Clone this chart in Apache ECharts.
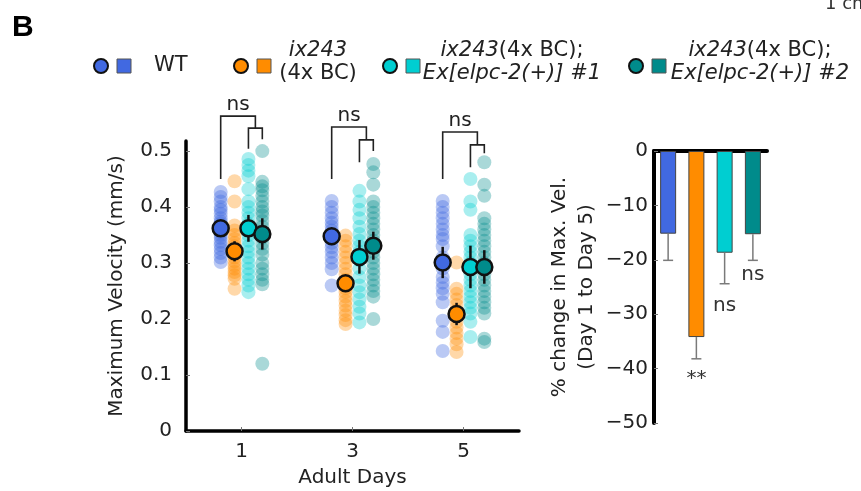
<!DOCTYPE html>
<html>
<head>
<meta charset="utf-8">
<script src="https://cdn.jsdelivr.net/npm/echarts@6/dist/echarts.min.js"></script>
<style>
  html, body { margin: 0; padding: 0; background: #fff; }
  #chart { width: 861px; height: 491px; }
</style>
</head>
<body>
<div id="chart"></div>
<script>
// x positions (adult days) and tick labels
const days = [1, 3, 5]
const velTicks = [0, 0.1, 0.2, 0.3, 0.4, 0.5]
const pctTicks = [0, -10, -20, -30, -40, -50]

// individual worms, max velocity (mm/s), one list per day (1, 3, 5)
const wtVel = [
  [0.427, 0.418, 0.41, 0.4, 0.395, 0.388, 0.38, 0.374, 0.37, 0.366, 0.36, 0.355, 0.35, 0.345, 0.338, 0.332, 0.325, 0.318, 0.31, 0.302],
  [0.411, 0.4, 0.39, 0.38, 0.372, 0.365, 0.358, 0.35, 0.343, 0.336, 0.328, 0.32, 0.31, 0.3, 0.289, 0.26],
  [0.411, 0.4, 0.39, 0.38, 0.37, 0.36, 0.35, 0.343, 0.33, 0.31, 0.29, 0.275, 0.265, 0.255, 0.245, 0.23, 0.197, 0.177, 0.143]
]
const ixVel = [
  [0.446, 0.41, 0.367, 0.358, 0.35, 0.343, 0.336, 0.33, 0.322, 0.315, 0.31, 0.303, 0.296, 0.29, 0.284, 0.278, 0.272, 0.254],
  [0.349, 0.34, 0.33, 0.32, 0.31, 0.3, 0.29, 0.28, 0.27, 0.262, 0.255, 0.248, 0.24, 0.232, 0.224, 0.215, 0.207, 0.198, 0.191],
  [0.301, 0.254, 0.245, 0.235, 0.225, 0.215, 0.205, 0.195, 0.185, 0.175, 0.165, 0.155, 0.141]
]
const ex1Vel = [
  [0.486, 0.475, 0.465, 0.455, 0.432, 0.41, 0.4, 0.39, 0.38, 0.37, 0.36, 0.35, 0.34, 0.33, 0.32, 0.31, 0.3, 0.29, 0.28, 0.27, 0.26, 0.248],
  [0.429, 0.41, 0.395, 0.38, 0.365, 0.352, 0.34, 0.33, 0.32, 0.305, 0.29, 0.275, 0.26, 0.248, 0.235, 0.222, 0.21, 0.194],
  [0.45, 0.41, 0.395, 0.35, 0.34, 0.33, 0.32, 0.31, 0.3, 0.29, 0.28, 0.27, 0.26, 0.25, 0.24, 0.23, 0.22, 0.21, 0.195, 0.168]
]
const ex2Vel = [
  [0.5, 0.445, 0.437, 0.43, 0.42, 0.41, 0.4, 0.392, 0.385, 0.375, 0.365, 0.355, 0.345, 0.335, 0.325, 0.315, 0.3, 0.29, 0.28, 0.27, 0.262, 0.12],
  [0.477, 0.462, 0.44, 0.41, 0.4, 0.39, 0.38, 0.37, 0.36, 0.35, 0.34, 0.33, 0.32, 0.31, 0.3, 0.29, 0.28, 0.27, 0.26, 0.25, 0.24, 0.2],
  [0.48, 0.44, 0.42, 0.38, 0.37, 0.36, 0.35, 0.34, 0.33, 0.32, 0.31, 0.3, 0.29, 0.28, 0.27, 0.26, 0.25, 0.24, 0.23, 0.22, 0.21, 0.165, 0.159]
]

// mean +- sem per day
const wtMean = [0.362, 0.348, 0.301]
const wtSem = [0.015, 0.01, 0.028]
const ixMean = [0.321, 0.264, 0.209]
const ixSem = [0.018, 0.01, 0.02]
const ex1Mean = [0.362, 0.311, 0.293]
const ex1Sem = [0.024, 0.03, 0.038]
const ex2Mean = [0.352, 0.331, 0.293]
const ex2Sem = [0.028, 0.025, 0.03]
const daySig = ['ns', 'ns', 'ns']

// % change in max. velocity, day 1 -> day 5
const groupNames = ['WT', 'ix243 (4x BC)', 'ix243 (4x BC); Ex[elpc-2(+)] #1', 'ix243 (4x BC); Ex[elpc-2(+)] #2']
const pctChange = [-15.2, -34.2, -18.7, -15.3]
const pctSem = [4.9, 4.0, 5.7, 4.8]
const pctSig = ['', '**', 'ns', 'ns']

const FONT = 'DejaVu Sans'
const colors = ['#4169E1', '#FF8C00', '#00CED1', '#008B8B']
const dotColors = ['rgba(65,105,225,0.45)', 'rgba(255,140,0,0.42)', 'rgba(0,206,209,0.42)', 'rgba(0,139,139,0.42)']
const offsets = [-0.375, -0.125, 0.125, 0.375]
const allVel = [wtVel, ixVel, ex1Vel, ex2Vel]
const allMean = [wtMean, ixMean, ex1Mean, ex2Mean]
const allSem = [wtSem, ixSem, ex1Sem, ex2Sem]
// bracket heights per day: big top, WT leg end, small top, leg3 end, leg4 end
const bracketY = [
  [0.5625, 0.45, 0.541, 0.504, 0.521],
  [0.543, 0.45, 0.52, 0.48, 0.5],
  [0.534, 0.45, 0.511, 0.471, 0.496]
]
// gap under each error bar for its significance label
const sigGap = [6, 10, 12, 4]

const series = []

// scattered individual points
allVel.forEach(function(vel, g) {
  const data = []
  vel.forEach(function(list, d) {
    list.forEach(function(v) { data.push([days[d] + offsets[g], v]) })
  })
  series.push({
    type: 'scatter', xAxisIndex: 0, yAxisIndex: 0, data: data,
    symbolSize: 14, itemStyle: { color: dotColors[g] }, silent: true, z: 2
  })
})

// error bars (mean +- sem)
allMean.forEach(function(mean, g) {
  series.push({
    type: 'custom', xAxisIndex: 0, yAxisIndex: 0, z: 3, silent: true,
    data: mean.map(function(m, d) { return [days[d] + offsets[g], m - allSem[g][d], m + allSem[g][d]] }),
    encode: { x: 0, y: [1, 2] },
    renderItem: function(params, api) {
      const p1 = api.coord([api.value(0), api.value(1)])
      const p2 = api.coord([api.value(0), api.value(2)])
      return { type: 'line', shape: { x1: p1[0], y1: p1[1], x2: p2[0], y2: p2[1] }, style: { stroke: '#111', lineWidth: 2.5 } }
    }
  })
})

// means
allMean.forEach(function(mean, g) {
  series.push({
    type: 'scatter', xAxisIndex: 0, yAxisIndex: 0, z: 4, silent: true,
    data: mean.map(function(m, d) { return [days[d] + offsets[g], m] }),
    symbolSize: 16,
    itemStyle: { color: colors[g], borderColor: '#111', borderWidth: 2.5, opacity: 1 }
  })
})

// significance brackets
series.push({
  type: 'custom', xAxisIndex: 0, yAxisIndex: 0, z: 5, clip: false, silent: true,
  data: days.map(function(d, i) { return [d, bracketY[i][0]] }),
  encode: { x: 0, y: 1 },
  renderItem: function(params, api) {
    const d = api.value(0)
    const b = bracketY[params.dataIndex]
    const c = function(x, y) { return api.coord([x, y]) }
    const mid = d + (offsets[2] + offsets[3]) / 2
    const big = [c(d + offsets[0], b[1]), c(d + offsets[0], b[0]), c(mid, b[0]), c(mid, b[2])]
    const small = [c(d + offsets[2], b[3]), c(d + offsets[2], b[2]), c(d + offsets[3], b[2]), c(d + offsets[3], b[4])]
    const top = c((d + offsets[0] + mid) / 2, b[0])
    const ls = { stroke: '#222', lineWidth: 1.6, fill: null }
    return {
      type: 'group',
      children: [
        { type: 'polyline', shape: { points: big }, style: ls },
        { type: 'polyline', shape: { points: small }, style: ls },
        { type: 'text', x: top[0], y: top[1] - 1, style: { text: daySig[params.dataIndex], align: 'center', verticalAlign: 'bottom', font: '20px ' + FONT, fill: '#222' } }
      ]
    }
  }
})

// right chart bars
series.push({
  type: 'bar', xAxisIndex: 1, yAxisIndex: 1, barWidth: 16, silent: true,
  data: pctChange.map(function(v, i) { return { value: v, itemStyle: { color: colors[i], borderColor: '#444', borderWidth: 1 } } })
})
series.push({
  type: 'custom', xAxisIndex: 1, yAxisIndex: 1, z: 5, clip: false, silent: true,
  data: pctChange.map(function(v, i) { return [i, v, v - pctSem[i]] }),
  encode: { x: 0, y: [1, 2] },
  renderItem: function(params, api) {
    const p1 = api.coord([api.value(0), api.value(1)])
    const p2 = api.coord([api.value(0), api.value(2)])
    const st = { stroke: '#7a7a7a', lineWidth: 1.5 }
    return {
      type: 'group',
      children: [
        { type: 'line', shape: { x1: p1[0], y1: p1[1], x2: p2[0], y2: p2[1] }, style: st },
        { type: 'line', shape: { x1: p2[0] - 5, y1: p2[1], x2: p2[0] + 5, y2: p2[1] }, style: st },
        { type: 'text', x: p2[0], y: p2[1] + sigGap[params.dataIndex], style: { text: pctSig[params.dataIndex], align: 'center', verticalAlign: 'top', font: '20px ' + FONT, fill: '#333' } }
      ]
    }
  }
})

// legend (circle + square + label)
const legendX = [101, 241, 390, 636]
const legendText = [
  { text: 'WT', x: 154, align: 'left' },
  { text: '{i|ix243}\n(4x BC)', x: 318, align: 'center' },
  { text: '{i|ix243}(4x BC);\n{i|Ex[elpc-2(+)] #1}', x: 512, align: 'center' },
  { text: '{i|ix243}(4x BC);\n{i|Ex[elpc-2(+)] #2}', x: 760, align: 'center' }
]
const graphic = [
  { type: 'text', left: 12, top: 13, style: { text: 'B', font: 'bold 30px "Liberation Sans"', fill: '#000' } },
  { type: 'text', x: 825, y: -5, style: { text: '1 cm', font: '18px ' + FONT, fill: '#333' } }
]
legendX.forEach(function(x, i) {
  graphic.push({ type: 'circle', shape: { cx: x, cy: 66, r: 7 }, style: { fill: colors[i], stroke: '#111', lineWidth: 2 } })
  graphic.push({ type: 'rect', shape: { x: x + 16, y: 59, width: 14, height: 14 }, style: { fill: colors[i], stroke: '#555', lineWidth: 1 } })
  graphic.push({
    type: 'text', x: legendText[i].x, y: i === 0 ? 66 : 62,
    style: {
      text: legendText[i].text, align: legendText[i].align, verticalAlign: 'middle',
      font: '21px ' + FONT, fill: '#222', lineHeight: 23,
      rich: { i: { fontStyle: 'italic', fontSize: 21, fontFamily: FONT, lineHeight: 23 } }
    }
  })
})

const axisLineStyle = { color: '#000', width: 3.5 }
const option = {
  animation: false,
  backgroundColor: '#fff',
  textStyle: { fontFamily: FONT },
  grid: [
    { left: 186, top: 141, width: 333, height: 290, outerBoundsMode: 'none' },
    { left: 654, top: 151, width: 113, height: 272, outerBoundsMode: 'none' }
  ],
  xAxis: [
    {
      type: 'value', gridIndex: 0, min: 0, max: 6,
      axisLine: { lineStyle: axisLineStyle },
      axisTick: { inside: true, length: 4, customValues: days, lineStyle: { color: '#777', width: 1 } },
      axisLabel: { customValues: days, fontSize: 20, color: '#222', margin: 11 },
      splitLine: { show: false },
      name: 'Adult Days', nameLocation: 'middle', nameGap: 37,
      nameTextStyle: { fontSize: 20, color: '#222' }
    },
    {
      type: 'category', gridIndex: 1, data: groupNames, position: 'top',
      axisLine: { lineStyle: { color: '#000', width: 4 } },
      axisTick: { show: false }, axisLabel: { show: false }, splitLine: { show: false }
    }
  ],
  yAxis: [
    {
      type: 'value', gridIndex: 0, min: 0, max: 0.518,
      axisLine: { show: true, lineStyle: axisLineStyle },
      axisTick: { show: true, inside: true, length: 4, customValues: velTicks, lineStyle: { color: '#777', width: 1 } },
      axisLabel: { customValues: velTicks, fontSize: 20, color: '#222', margin: 14 },
      splitLine: { show: false },
      name: 'Maximum Velocity (mm/s)', nameLocation: 'middle', nameGap: 59,
      nameTextStyle: { fontSize: 20, color: '#222' }
    },
    {
      type: 'value', gridIndex: 1, min: -50, max: 0, interval: 10,
      axisLine: { show: true, lineStyle: { color: '#000', width: 4 } },
      axisTick: { show: true, inside: true, length: 4, lineStyle: { color: '#777', width: 1 } },
      axisLabel: {
        customValues: pctTicks, fontSize: 20, color: '#222', margin: 6,
        formatter: function(v) { return String(v).replace('-', '\u2212') }
      },
      splitLine: { show: false },
      name: '% change in Max. Vel.\n(Day 1 to Day 5)', nameLocation: 'middle', nameGap: 54,
      nameTextStyle: { fontSize: 20, color: '#222', lineHeight: 27 }
    }
  ],
  series: series,
  graphic: graphic
}

const myChart = echarts.init(document.getElementById('chart'))
myChart.setOption(option)
</script>
</body>
</html>
